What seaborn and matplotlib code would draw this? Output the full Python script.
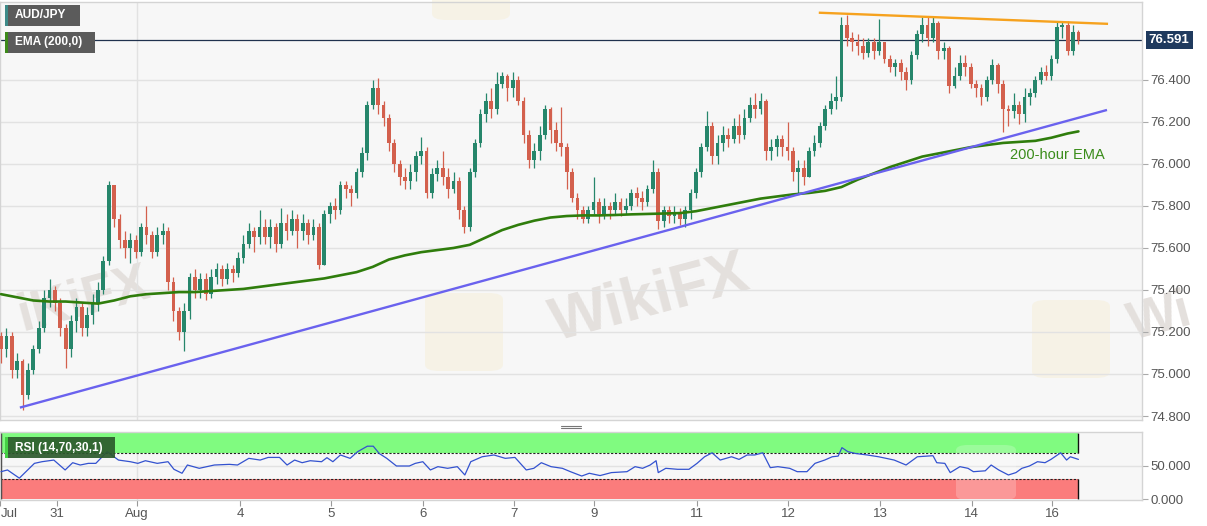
import matplotlib
matplotlib.use("Agg")
import matplotlib.pyplot as plt
from matplotlib.patches import Rectangle, FancyBboxPatch
from matplotlib.lines import Line2D
import matplotlib.transforms as mtransforms
import numpy as np
import pandas as pd
import seaborn as sns

# ---------------------------------------------------------------
# AUD/JPY hourly candles
first_open = 75.18
closes = [
    75.12, 75.18, 75.02, 75.06, 74.90, 75.02, 75.12, 75.22, 75.36, 75.40,
    75.34, 75.22, 75.12, 75.25, 75.32, 75.22, 75.28, 75.34, 75.40, 75.54,
    75.90, 75.74, 75.64, 75.60, 75.64, 75.58, 75.70, 75.66, 75.58, 75.66,
    75.68, 75.44, 75.30, 75.20, 75.30, 75.46, 75.40, 75.45, 75.38, 75.46,
    75.50, 75.45, 75.50, 75.48, 75.55, 75.62, 75.68, 75.65, 75.70, 75.65,
    75.70, 75.62, 75.72, 75.68, 75.74, 75.68, 75.72, 75.66, 75.70, 75.52,
    75.76, 75.80, 75.78, 75.90, 75.88, 75.86, 75.96, 76.05, 76.28, 76.36,
    76.28, 76.22, 76.10, 76.00, 75.94, 75.92, 75.96, 76.04, 76.06, 75.86,
    75.95, 75.98, 75.94, 75.88, 75.92, 75.78, 75.70, 75.96, 76.10, 76.24,
    76.30, 76.26, 76.38, 76.42, 76.36, 76.40, 76.30, 76.14, 76.02, 76.06,
    76.14, 76.26, 76.16, 76.10, 76.08, 75.96, 75.84, 75.78, 75.74, 75.78,
    75.82, 75.76, 75.80, 75.78, 75.82, 75.78, 75.80, 75.86, 75.84, 75.82,
    75.88, 75.96, 75.73, 75.78, 75.75, 75.77, 75.74, 75.78, 75.86, 75.96,
    76.08, 76.18, 76.04, 76.10, 76.14, 76.12, 76.18, 76.14, 76.22, 76.28,
    76.26, 76.30, 76.06, 76.08, 76.12, 76.08, 76.06, 75.96, 75.98, 75.94,
    76.06, 76.10, 76.18, 76.26, 76.30, 76.32, 76.66, 76.60, 76.58, 76.56,
    76.53, 76.58, 76.54, 76.58, 76.50, 76.46, 76.48, 76.44, 76.40, 76.52,
    76.62, 76.66, 76.60, 76.67, 76.54, 76.55, 76.37, 76.42, 76.48, 76.46,
    76.38, 76.36, 76.32, 76.40, 76.47, 76.38, 76.26, 76.25, 76.28, 76.24,
    76.32, 76.34, 76.40, 76.44, 76.42, 76.50, 76.65, 76.66, 76.54, 76.63,
    76.591,
]
highs = [
    75.20, 75.22, 75.20, 75.10, 75.07, 75.05, 75.14, 75.25, 75.40, 75.45,
    75.42, 75.36, 75.24, 75.28, 75.36, 75.34, 75.32, 75.38, 75.44, 75.56,
    75.92, 75.88, 75.76, 75.68, 75.67, 75.66, 75.72, 75.80, 75.68, 75.70,
    75.72, 75.70, 75.46, 75.32, 75.34, 75.48, 75.50, 75.48, 75.48, 75.50,
    75.53, 75.52, 75.53, 75.52, 75.58, 75.66, 75.72, 75.70, 75.78, 75.74,
    75.74, 75.72, 75.79, 75.76, 75.78, 75.76, 75.76, 75.74, 75.74, 75.72,
    75.78, 75.82, 75.84, 75.92, 75.92, 75.90, 75.98, 76.08, 76.30, 76.40,
    76.41, 76.30, 76.24, 76.12, 76.02, 75.98, 76.00, 76.06, 76.13, 76.08,
    75.98, 76.02, 76.06, 75.98, 75.96, 75.94, 75.80, 75.98, 76.12, 76.26,
    76.34, 76.36, 76.44, 76.44, 76.43, 76.44, 76.42, 76.32, 76.16, 76.10,
    76.18, 76.28, 76.27, 76.20, 76.27, 76.10, 75.98, 75.86, 75.80, 75.80,
    75.94, 75.84, 75.84, 75.82, 75.86, 75.84, 75.84, 75.88, 75.89, 75.87,
    75.90, 76.02, 75.98, 75.80, 75.80, 75.80, 75.79, 75.80, 75.88, 75.98,
    76.10, 76.25, 76.20, 76.14, 76.18, 76.17, 76.22, 76.24, 76.26, 76.32,
    76.34, 76.34, 76.31, 76.12, 76.14, 76.14, 76.20, 76.08, 76.02, 76.02,
    76.08, 76.14, 76.20, 76.28, 76.34, 76.42, 76.70, 76.71, 76.63, 76.62,
    76.60, 76.60, 76.60, 76.69, 76.58, 76.52, 76.50, 76.50, 76.46, 76.54,
    76.64, 76.70, 76.70, 76.70, 76.68, 76.58, 76.56, 76.46, 76.52, 76.52,
    76.48, 76.40, 76.38, 76.42, 76.50, 76.48, 76.40, 76.28, 76.34, 76.30,
    76.36, 76.36, 76.42, 76.46, 76.47, 76.52, 76.68, 76.68, 76.68, 76.66,
    76.64,
]
lows = [
    75.05, 75.08, 74.98, 74.98, 74.83, 74.88, 75.00, 75.10, 75.20, 75.32,
    75.30, 75.18, 75.03, 75.08, 75.20, 75.18, 75.18, 75.24, 75.30, 75.38,
    75.52, 75.70, 75.60, 75.55, 75.53, 75.55, 75.56, 75.62, 75.55, 75.56,
    75.62, 75.40, 75.25, 75.16, 75.11, 75.26, 75.36, 75.36, 75.35, 75.36,
    75.43, 75.42, 75.43, 75.44, 75.46, 75.53, 75.60, 75.58, 75.62, 75.62,
    75.60, 75.58, 75.60, 75.64, 75.66, 75.60, 75.64, 75.62, 75.64, 75.50,
    75.52, 75.72, 75.74, 75.76, 75.84, 75.80, 75.84, 75.94, 76.02, 76.26,
    76.24, 76.18, 76.06, 75.96, 75.90, 75.88, 75.88, 75.92, 76.00, 75.84,
    75.84, 75.92, 75.90, 75.84, 75.86, 75.74, 75.67, 75.68, 75.94, 76.08,
    76.20, 76.22, 76.24, 76.36, 76.30, 76.32, 76.28, 76.10, 75.98, 75.98,
    76.02, 76.12, 76.10, 76.06, 76.04, 75.88, 75.82, 75.74, 75.72, 75.72,
    75.76, 75.72, 75.74, 75.74, 75.76, 75.75, 75.76, 75.78, 75.80, 75.78,
    75.80, 75.86, 75.69, 75.70, 75.72, 75.72, 75.71, 75.70, 75.74, 75.84,
    75.94, 76.06, 76.00, 76.00, 76.06, 76.08, 76.10, 76.10, 76.12, 76.20,
    76.22, 76.24, 76.02, 76.02, 76.04, 76.04, 76.02, 75.92, 75.86, 75.90,
    75.94, 76.04, 76.08, 76.16, 76.24, 76.26, 76.30, 76.56, 76.54, 76.52,
    76.50, 76.51, 76.50, 76.52, 76.48, 76.44, 76.42, 76.40, 76.35, 76.38,
    76.50, 76.58, 76.56, 76.58, 76.50, 76.50, 76.34, 76.36, 76.40, 76.42,
    76.36, 76.32, 76.28, 76.30, 76.38, 76.34, 76.15, 76.18, 76.22, 76.19,
    76.20, 76.28, 76.32, 76.38, 76.40, 76.40, 76.48, 76.60, 76.52, 76.52,
    76.57,
]

# 200-hour EMA, sampled every third bar
ema_pos = list(range(0, 199, 3)) + [200]
ema_val = [
    75.380, 75.365, 75.350, 75.345, 75.345, 75.340, 75.335, 75.350, 75.370, 75.380,
    75.385, 75.390, 75.390, 75.395, 75.400, 75.405, 75.415, 75.425, 75.435, 75.445,
    75.455, 75.470, 75.485, 75.510, 75.545, 75.565, 75.580, 75.590, 75.600, 75.615,
    75.650, 75.685, 75.710, 75.730, 75.745, 75.752, 75.755, 75.755, 75.757, 75.760,
    75.762, 75.764, 75.766, 75.775, 75.790, 75.805, 75.820, 75.835, 75.845, 75.855,
    75.862, 75.872, 75.890, 75.925, 75.955, 75.985, 76.010, 76.035, 76.050, 76.065,
    76.080, 76.090, 76.100, 76.105, 76.110, 76.125, 76.145, 76.155,
]

# RSI(14)
rsi_pos = [
    0, 1.2, 3.4, 6.2, 7.6, 9.8, 11.9, 13.3, 14.7, 16.2, 17.6, 19.7, 21.8, 24.0,
    25.4, 26.8, 29.0, 31.0, 32.1, 33.6, 34.6, 36.8, 39.6, 42.4, 43.9, 46.0, 48.1,
    49.6, 51.7, 53.1, 54.5, 55.9, 57.4, 59.5, 60.5, 61.6, 63.0, 64.8, 66.2, 68.0,
    69.1, 70.2, 71.6, 73.4, 75.8, 76.9, 78.3, 79.7, 81.1, 82.9, 84.7, 86.1, 87.2,
    89.3, 91.5, 93.6, 95.4, 97.5, 98.9, 100.3, 102.1, 104.2, 105.7, 107.8, 109.2,
    111.2, 113.3, 116.2, 117.7, 119.1, 120.5, 121.6, 122.0, 123.4, 125.6, 127.7,
    129.2, 130.6, 132.0, 133.5, 135.6, 137.0, 138.5, 139.9, 141.4, 142.8, 144.2,
    146.4, 147.8, 149.6, 151.1, 152.9, 154.3, 155.4, 156.1, 157.2, 158.6, 160.8,
    162.9, 165.8, 168.0, 170.1, 173.0, 173.7, 175.2, 176.2, 178.0, 179.5, 180.5,
    182.7, 183.8, 185.2, 187.0, 188.4, 189.5, 190.9, 192.4, 193.8, 194.9, 196.7,
    197.8, 198.5, 200.0,
]
rsi_val = [
    41.4, 44.0, 31.6, 54.0, 56.5, 59.0, 44.0, 55.0, 51.5, 54.0, 54.0, 71.7, 59.0, 56.5,
    54.0, 58.0, 54.0, 56.5, 45.0, 39.0, 51.5, 46.5, 51.5, 52.5, 51.5, 61.6, 59.0,
    63.0, 63.0, 51.5, 59.0, 55.0, 58.0, 56.5, 62.6, 56.5, 66.7, 61.6, 71.7, 80.0,
    80.0, 69.0, 61.6, 50.0, 50.0, 54.0, 56.5, 44.0, 49.0, 46.5, 49.0, 36.4, 56.5,
    64.0, 66.7, 61.6, 63.0, 44.0, 46.5, 55.0, 49.0, 46.5, 41.4, 34.8, 39.0,
    35.5, 40.0, 41.4, 49.0, 46.5, 51.5, 58.0, 40.0, 46.5, 45.0, 45.0,
    54.0, 64.0, 70.0, 59.0, 64.0, 60.0, 66.7, 66.7, 70.0, 47.5, 49.0,
    46.5, 41.4, 41.4, 54.0, 59.0, 64.0, 65.0, 77.8, 71.7, 69.0, 66.7,
    64.0, 59.0, 51.5, 64.0, 65.6, 55.0, 54.0, 40.0, 49.0, 46.5, 41.4,
    42.7, 51.5, 44.0, 36.4, 40.0, 46.5, 50.0, 56.5, 55.0, 60.0, 70.0,
    59.0, 64.0, 60.0,
]

# trend lines drawn on the chart (bar index, price)
support_x = [3.5, 205.3]
support_y = [74.84, 76.257]
resist_x = [151.8, 205.5]
resist_y = [76.72, 76.667]
last_price = 76.591

price_ticks = [74.8, 75.0, 75.2, 75.4, 75.6, 75.8, 76.0, 76.2, 76.4]
day_pos = [-0.1, 10.4, 25.2, 44.4, 61.3, 78.3, 95.2, 110.1, 129.2, 146.1, 163.2, 180.2, 195.1]
day_labels = ['Jul', '31', 'Aug', '4', '5', '6', '7', '9', '11', '12', '13', '14', '16']
# ---------------------------------------------------------------

UP = '#26866b'
DOWN = '#d3604d'
BG = '#f7f7f7'
GRID = '#e2e2e2'

sns.set_theme(style='white')
plt.rcParams['font.family'] = ['Liberation Sans', 'DejaVu Sans']

W, H = 1207, 526
fig = plt.figure(figsize=(W / 100, H / 100), dpi=100)
fig.patch.set_facecolor('white')

def px_box(x0, y0, x1, y1):
    return [x0 / W, 1 - y1 / H, (x1 - x0) / W, (y1 - y0) / H]

ax = fig.add_axes(px_box(0, 2, 1142, 420))
ax2 = fig.add_axes(px_box(0, 432, 1142, 500))
x_left, x_right = -0.19, 211.8

df = pd.DataFrame({'close': closes, 'high': highs, 'low': lows})
df['open'] = [first_open] + closes[:-1]
df['x'] = np.arange(len(df))
df['high'] = df[['high', 'open', 'close']].max(axis=1)
df['low'] = df[['low', 'open', 'close']].min(axis=1)
cols = np.where(df['close'] >= df['open'], UP, DOWN)

# ---------------- main price panel ----------------
ax.set_facecolor(BG)
ax.set_xlim(x_left, x_right)
ax.set_ylim(74.781, 76.771)
ax.set_yticks(price_ticks)
ax.set_yticklabels([f'{p:.3f}' for p in price_ticks])
ax.yaxis.tick_right()
ax.tick_params(axis='y', direction='out', length=4, width=0.8, color='#aaaaaa',
               labelcolor='#555555', labelsize=9.5, pad=2, right=True)
ax.set_xticks([])
ax.grid(axis='y', color=GRID, lw=1)
ax.axvline(day_pos[2], color=GRID, lw=1, zorder=0.6)
for s in ax.spines.values():
    s.set_color('#d4d4d4')
    s.set_linewidth(1)

# faint watermarks (the edge ones show only their visible letters)
for wx, wy, wtxt, fs in [(650, 300, 'WikiFX', 44), (84, 300, 'iKiFX', 38), (1160, 318, 'Wi', 38)]:
    ax.text(wx / W, 1 - wy / H, wtxt, transform=fig.transFigure, fontsize=fs,
            fontweight='bold', color='#e4e0dd', rotation=15, ha='center', va='center', zorder=0.3)
for lx, ly in [(425, 293), (1032, 300), (432, -58)]:
    ax.add_patch(FancyBboxPatch((lx / W, 1 - (ly + 78) / H), 78 / W, 78 / H,
                                boxstyle='round,pad=0.0,rounding_size=0.012',
                                transform=fig.transFigure, fc='#f6efd8', ec='none',
                                alpha=0.55, zorder=0.3, clip_on=False))

ax.vlines(df['x'], df['low'], df['high'], colors=cols, lw=0.9, zorder=3)
ax.bar(df['x'], (df['close'] - df['open']).abs().clip(lower=0.004),
       bottom=df[['open', 'close']].min(axis=1), width=0.7, color=cols, lw=0, zorder=3)

sns.lineplot(x=ema_pos, y=ema_val, ax=ax, color='#2f7d0c', lw=1.9, zorder=4)
ax.plot(support_x, support_y, color='#6a62ee', lw=1.7, zorder=4, solid_capstyle='butt')
ax.plot(resist_x, resist_y, color='#f6a21e', lw=1.7, zorder=4, solid_capstyle='butt')
ax.axhline(last_price, color='#20324e', lw=0.9, zorder=2)

ax.text(187.3, 76.043, '200-hour EMA', color='#3a8c1a', fontsize=10.5,
        ha='left', va='center', zorder=5)

# last-price tag
blend = mtransforms.blended_transform_factory(ax.transAxes, ax.transData)
ax.text(1.006, last_price, f'{last_price:.3f}', transform=blend, color='white',
        fontsize=9.5, fontweight='bold', ha='left', va='center', zorder=6,
        bbox=dict(boxstyle='square,pad=0.22', fc='#1f3a5e', ec='none'))

def label_box(x0, y0, x1, y1, text, fill, accent, alpha=1.0):
    fig.add_artist(Rectangle((x0 / W, 1 - y1 / H), (x1 - x0) / W, (y1 - y0) / H,
                             transform=fig.transFigure, fc=fill, ec='none', alpha=alpha, zorder=10))
    fig.add_artist(Rectangle((x0 / W, 1 - y1 / H), 2.5 / W, (y1 - y0) / H,
                             transform=fig.transFigure, fc=accent, ec='none', zorder=11))
    fig.text((x0 + 10) / W, 1 - (y0 + y1) / 2 / H, text, color='white', fontsize=8.6,
             fontweight='bold', ha='left', va='center', zorder=12)

label_box(5, 5, 80, 26, 'AUD/JPY', '#5b5b5b', '#3d8a88')
label_box(5, 32, 95, 53, 'EMA (200,0)', '#5b5b5b', '#3d8a1a')

# ---------------- RSI panel ----------------
ax2.set_facecolor(BG)
ax2.set_xlim(x_left, x_right)
ax2.set_ylim(-1.5, 101.5)
ax2.add_patch(Rectangle((x_left, 70), 200 - x_left, 30, fc='#80fb80', ec='none', zorder=1))
ax2.add_patch(Rectangle((x_left, 0), 200 - x_left, 30, fc='#fb7c7c', ec='none', zorder=1))
ax2.hlines([70, 30], x_left, 200, colors='#222222', lw=0.8, linestyles=(0, (2, 1.5)), zorder=2)
ax2.vlines([200, 200], [0, 70], [30, 100], colors='#111111', lw=1, zorder=2)
ax2.vlines([0.05], [0], [100], colors='#333333', lw=1, zorder=2)
ax2.axhline(50, color=GRID, lw=1, zorder=0.5)
ax2.axvline(day_pos[2], color=GRID, lw=1, zorder=0.5)
ax2.add_patch(FancyBboxPatch((956 / W, 1 - 500 / H), 60 / W, 55 / H,
                             boxstyle='round,pad=0.0,rounding_size=0.01',
                             transform=fig.transFigure, fc='white', ec='none',
                             alpha=0.22, zorder=2.5, clip_on=False))
sns.lineplot(x=rsi_pos, y=rsi_val, ax=ax2, color='#3352cf', lw=0.9, zorder=3)

ax2.set_yticks([0, 50])
ax2.set_yticklabels(['0.000', '50.000'])
ax2.yaxis.tick_right()
ax2.tick_params(axis='y', direction='out', length=4, width=0.8, color='#aaaaaa',
                labelcolor='#555555', labelsize=9.5, pad=2, right=True)
ax2.set_xticks(day_pos)
ax2.set_xticklabels(day_labels)
ax2.tick_params(axis='x', direction='out', length=4, width=0.8, color='#999999',
                labelcolor='#555555', labelsize=9.5, pad=2, bottom=True)
ax2.get_xticklabels()[0].set_ha('left')
ax2.set_xlabel('')
ax2.set_ylabel('')
ax.set_xlabel('')
ax.set_ylabel('')
for s in ax2.spines.values():
    s.set_color('#d4d4d4')
    s.set_linewidth(1)

label_box(5, 437, 115, 458, 'RSI (14,70,30,1)', '#2c5a2c', '#45d045', alpha=0.92)

# panel divider handle
for yy in (425.5, 428):
    fig.add_artist(Line2D([561 / W, 581 / W], [1 - yy / H, 1 - yy / H],
                          transform=fig.transFigure, color='#777777', lw=0.8))

fig.savefig('out.png', dpi=100, facecolor='white')
